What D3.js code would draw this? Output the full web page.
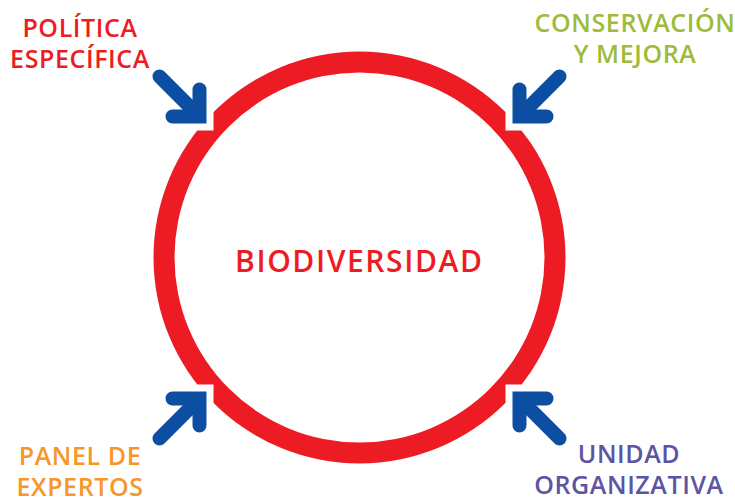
<!DOCTYPE html>
<html>
<head>
<meta charset="utf-8">
<script src="https://cdn.jsdelivr.net/npm/d3@7"></script>
<style>
  html, body { margin: 0; padding: 0; background: #fff; }
  svg { display: block; }
  text { font-family: "Open Sans", sans-serif; font-weight: 600; }
</style>
</head>
<body>
<svg width="735" height="502"></svg>
<script>
// Diagram content
const centerLabel = 'BIODIVERSIDAD'
const corners = ['tl', 'tr', 'bl', 'br']
const labelLines = [['POLÍTICA', 'ESPECÍFICA'], ['CONSERVACIÓN', 'Y MEJORA'], ['PANEL DE', 'EXPERTOS'], ['UNIDAD', 'ORGANIZATIVA']]
const labelColors = ['#ed1c24', '#9fbb3a', '#f7962a', '#5c54a4']
const labelX = [80, 635, 80, 629]
const labelY = [37, 32, 465, 463]

const svg = d3.select('svg')
const cx = 359.5
const cy = 257.5
const rOuter = 206
const rInner = 185
const red = '#ed1c24'
const blue = '#0b4ea2'

// notch offsets from centre
const nx = 146
const ny = 127
const sign = {tl: [-1, -1], tr: [1, -1], bl: [-1, 1], br: [1, 1]}

// mask removes a square at each notch
const defs = svg.append('defs')
const mask = defs.append('mask').attr('id', 'notch')
  .attr('maskUnits', 'userSpaceOnUse')
  .attr('x', 0).attr('y', 0).attr('width', 735).attr('height', 502)
mask.append('rect').attr('width', 735).attr('height', 502).attr('fill', '#fff')
mask.selectAll('.cut').data(corners).join('rect')
  .attr('x', d => sign[d][0] < 0 ? cx - nx - 40 : cx + nx)
  .attr('y', d => sign[d][1] < 0 ? cy - ny - 40 : cy + ny)
  .attr('width', 40).attr('height', 40)
  .attr('fill', '#000')

const arc = d3.arc().innerRadius(rInner).outerRadius(rOuter).startAngle(0).endAngle(2 * Math.PI)
svg.append('g')
  .attr('mask', 'url(#notch)')
  .append('path')
  .attr('d', arc())
  .attr('transform', `translate(${cx},${cy})`)
  .attr('fill', red)

// arrows point from the corner into each notch
const arrows = svg.append('g')
  .attr('stroke', blue).attr('stroke-width', 14).attr('fill', 'none')
  .attr('stroke-linecap', 'round')
corners.forEach(c => {
  const [sx, sy] = sign[c]
  const px = cx + sx * nx + sx * 14
  const py = cy + sy * ny + sy * 14
  arrows.append('path').attr('d', `M${px + sx * 40},${py + sy * 40}L${px + sx * 4},${py + sy * 4}`)
  arrows.append('path').attr('stroke-linejoin', 'miter')
    .attr('d', `M${px + sx * 27},${py}L${px},${py}L${px},${py + sy * 27}`)
})

// labels
corners.forEach((c, i) => {
  svg.append('text')
    .attr('x', labelX[i]).attr('y', labelY[i])
    .attr('text-anchor', 'middle')
    .attr('fill', labelColors[i])
    .attr('font-size', 25)
    .attr('letter-spacing', 0.6)
    .selectAll('tspan').data(labelLines[i]).join('tspan')
    .attr('x', labelX[i])
    .attr('dy', (d, j) => j === 0 ? 0 : 31)
    .text(d => d)
})

svg.append('text')
  .attr('x', 358.5).attr('y', 272)
  .attr('text-anchor', 'middle')
  .attr('fill', red)
  .attr('font-size', 30)
  .attr('textLength', 247)
  .attr('lengthAdjust', 'spacing')
  .text(centerLabel)
</script>
</body>
</html>
